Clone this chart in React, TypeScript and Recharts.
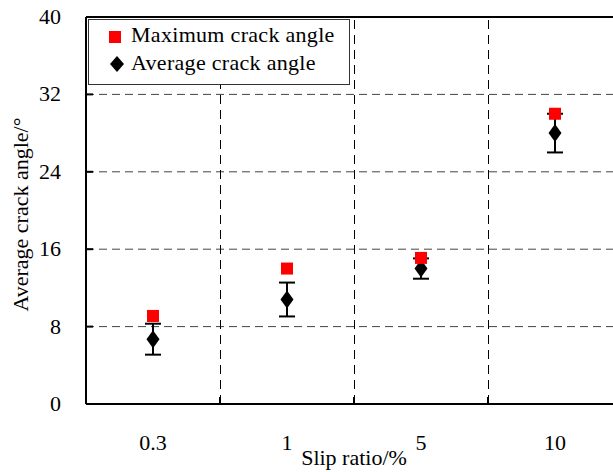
import React from 'react';
import {
  ComposedChart,
  Scatter,
  XAxis,
  YAxis,
  CartesianGrid,
  ReferenceLine,
  ErrorBar,
  Legend,
} from 'recharts';

// Slip ratio categories (%)
const slipRatios = ['0.3', '1', '5', '10'];
// Maximum crack angle per slip ratio (°)
const maxCrackAngle = [9.1, 14.0, 15.1, 30.0];
// Average crack angle per slip ratio (°) and its spread
const avgCrackAngle = [6.7, 10.8, 14.0, 28.0];
const avgCrackError = [1.6, 1.75, 1.05, 2.0];
// Value axis ticks
const angleTicks = [0, 8, 16, 24, 32, 40];

const SERIF = '"Liberation Serif", "Times New Roman", serif';
const RED = '#ff0000';
const TICK_MARGIN = 25;
const INNER_TICK = 7;

// Category index positions; the boundaries between categories get the dashed dividers
const positions = slipRatios.map((_, i) => i);
const boundaries = positions.slice(1).map((p) => p - 0.5);

const data = slipRatios.map((ratio, i) => ({
  pos: positions[i],
  ratio,
  max: maxCrackAngle[i],
  avg: avgCrackAngle[i],
  err: avgCrackError[i],
}));

const SquareMark = (props: any) => {
  const { cx, cy } = props;
  if (cx == null || cy == null) return null;
  return <rect x={cx - 6} y={cy - 6} width={12} height={12} fill={RED} />;
};

const DiamondMark = (props: any) => {
  const { cx, cy } = props;
  if (cx == null || cy == null) return null;
  return (
    <polygon
      points={`${cx},${cy - 9} ${cx + 6.5},${cy} ${cx},${cy + 9} ${cx - 6.5},${cy}`}
      fill="#000"
    />
  );
};

// Value-axis tick: label outside, short tick mark pointing into the plot
const AngleTick = (props: any) => {
  const { x, y, payload } = props;
  const axisX = x + TICK_MARGIN;
  return (
    <g>
      <line x1={axisX} y1={y} x2={axisX + INNER_TICK} y2={y} stroke="#000" strokeWidth={2} />
      <text
        x={x}
        y={y}
        dy={7}
        textAnchor="end"
        fontFamily={SERIF}
        fontSize={22}
        fill="#000"
      >
        {payload.value}
      </text>
    </g>
  );
};

// Dashed category divider with a solid inward tick at the bottom axis
const Divider = (props: any) => {
  const { x1, y1, y2 } = props;
  if (x1 == null) return null;
  const bottom = Math.max(y1, y2);
  const xs = Math.round(x1) + 0.5; // keep the 1px dash crisp
  return (
    <g>
      <line x1={xs} y1={y1} x2={xs} y2={y2} stroke="#000" strokeWidth={1} strokeDasharray="9 6" />
      <line x1={x1} y1={bottom} x2={x1} y2={bottom - INNER_TICK} stroke="#000" strokeWidth={2} />
    </g>
  );
};

const LegendBox = () => (
  <svg width={262} height={66} style={{ display: 'block' }}>
    <rect x={0.5} y={0.5} width={261} height={65} fill="#fff" stroke="#333" strokeWidth={1} />
    <rect x={21} y={12} width={12} height={12} fill={RED} />
    <text x={43} y={23} fontFamily={SERIF} fontSize={22} fill="#000" letterSpacing={0.3}>
      Maximum crack angle
    </text>
    <polygon points="29,37 36,45 29,53 22,45" fill="#000" />
    <text x={43} y={51} fontFamily={SERIF} fontSize={22} fill="#000" letterSpacing={0.3}>
      Average crack angle
    </text>
  </svg>
);

const YTitle = (props: any) => {
  const vb = props.viewBox || { x: 0, y: 0, height: 0 };
  const x = vb.x + 28;
  const y = vb.y + vb.height / 2 + 4;
  return (
    <text
      x={x}
      y={y}
      transform={`rotate(-90 ${x} ${y})`}
      textAnchor="middle"
      fontFamily={SERIF}
      fontSize={22}
      fill="#000"
    >
      Average crack angle/°
    </text>
  );
};

export default function App() {
  return (
    <div
      style={{
        position: 'absolute',
        left: 0,
        top: 0,
        width: 613,
        height: 472,
        overflow: 'hidden',
        background: '#fff',
      }}
    >
      <ComposedChart
        width={630}
        height={472}
        data={data}
        margin={{ top: 17, right: 8, bottom: 0, left: 0 }}
      >
        <CartesianGrid
          horizontal
          vertical={false}
          stroke="#444"
          strokeDasharray="8 5"
          strokeWidth={1}
        />
        {boundaries.map((b) => (
          <ReferenceLine key={b} x={b} shape={<Divider />} />
        ))}
        <ReferenceLine y={40} stroke="#000" strokeWidth={2} />

        <XAxis
          dataKey="pos"
          type="number"
          domain={[-0.5, 3.5]}
          ticks={positions}
          interval={0}
          tickFormatter={(v: number) => slipRatios[v] ?? ''}
          axisLine={{ stroke: '#000', strokeWidth: 2 }}
          tickLine={false}
          tickSize={0}
          tickMargin={30}
          tick={{ fill: '#000', fontSize: 22, fontFamily: SERIF }}
          height={68}
          allowDataOverflow
          label={{
            value: 'Slip ratio/%',
            position: 'insideBottom',
            offset: 7,
            fill: '#000',
            fontSize: 22,
            fontFamily: SERIF,
          }}
        />
        <YAxis
          type="number"
          domain={[0, 40]}
          ticks={angleTicks}
          interval={0}
          axisLine={{ stroke: '#000', strokeWidth: 2 }}
          tickLine={false}
          tickSize={0}
          tickMargin={TICK_MARGIN}
          tick={<AngleTick />}
          width={86}
          allowDataOverflow
          label={<YTitle />}
        />

        <Legend
          layout="horizontal"
          verticalAlign="middle"
          align="center"
          content={<LegendBox />}
          wrapperStyle={{ left: 88, top: 19, width: 262, height: 66 }}
        />

        <Scatter
          name="Average crack angle"
          dataKey="avg"
          shape={<DiamondMark />}
          isAnimationActive={false}
        >
          <ErrorBar
            dataKey="err"
            direction="y"
            width={8}
            stroke="#000"
            strokeWidth={2}
            isAnimationActive={false}
          />
        </Scatter>
        <Scatter
          name="Maximum crack angle"
          dataKey="max"
          shape={<SquareMark />}
          isAnimationActive={false}
        />
      </ComposedChart>
    </div>
  );
}
